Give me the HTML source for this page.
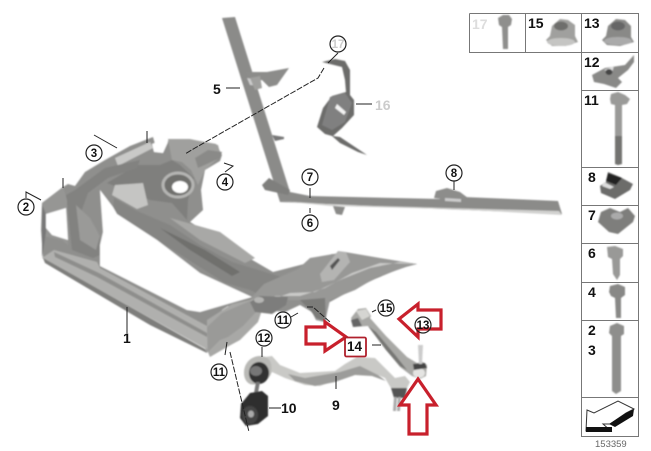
<!DOCTYPE html>
<html><head><meta charset="utf-8"><style>
html,body{margin:0;padding:0;background:#fff;width:651px;height:451px;overflow:hidden}
svg{display:block}
text{font-family:"Liberation Sans",sans-serif;font-weight:bold;fill:#111}
.n{font-size:14px}
.c{font-size:11.5px;text-anchor:middle}
.ci{fill:#fff;stroke:#222;stroke-width:1.2}
.l{stroke:#222;stroke-width:1;fill:none}
.d{stroke:#222;stroke-width:1;fill:none;stroke-dasharray:6 1.5}
.g{stroke:#777;stroke-width:1;fill:none}
</style></head><body>
<svg width="651" height="451" viewBox="0 0 651 451" xmlns="http://www.w3.org/2000/svg">
<defs><filter id="b" x="-5%" y="-5%" width="110%" height="110%"><feGaussianBlur stdDeviation="0.7"/></filter></defs>

<g filter="url(#b)">
<!-- subframe -->
<path d="M42 203L63 187L68 184L75 186L85 172L105 160L130 146L153 137L155 144L167 142L172 139L188 139L216 144L222 155L220 161L205 170L201 190L203 210L190 222L187 220L230 247L273 272L312 262L332 254L350 255L380 259L417 264L404 267L375 279L352 290L328 303L325 322L316 320L312 312L300 305L285 312L265 310L240 312L228 306L222 310L215 330L207 353L205 348L43 258L41 230Z" fill="#8f8f8d"/>
<path d="M107 183L137 165L160 165L172 160L180 165L194 178L188 200L187 220L172 203L150 200Z" fill="#7f7f7d"/>
<path d="M168 139L190 139L218 145L221 156L205 170L198 185L191 170L182 162L172 160Z" fill="#a0a09e"/>
<path d="M198 168L220 158L222 152L208 150L195 158Z" fill="#8a8a88"/>
<ellipse cx="178" cy="185" rx="15" ry="12" fill="#6f6f6d" stroke="#b5b5b3" stroke-width="3"/>
<ellipse cx="180" cy="187" rx="8" ry="6" fill="#fff"/>
<path d="M115 185L143 183L148 205L137 209L112 195Z" fill="#c5c5c3"/>
<path d="M114 198L135 210L170 225L200 245L232 262L285 278L270 300L250 290L225 283L165 245L125 222L113 210Z" fill="#858583"/>
<path d="M170 218L220 232L255 258L245 263L200 240Z" fill="#a8a8a6"/>
<path d="M160 228L205 250L240 272L232 276L190 250Z" fill="#6f6f6d"/>
<path d="M115 158L150 142L153 148L118 166Z" fill="#c9c9c7"/>
<path d="M75 190L105 168L140 160L137 168L108 178L88 193L80 215L100 235L100 255L93 258L72 250L66 195Z" fill="#828280"/>
<path d="M42 203L63 187L67 200L68 245L62 240L44 236L47 215Z" fill="#969694"/>
<path d="M46 214L66 208L68 240L52 235L46 228Z" fill="#fff"/>
<path d="M76 205L90 218L100 236L96 250L80 240Z" fill="#9a9a98"/>
<path d="M54 250L97 262L100 268L218 332L208 350L42 258Z" fill="#b0b0ae"/>
<path d="M54 252L99 273L207 333L207 337L97 277L55 257Z" fill="#8e8e8c"/>
<path d="M43 258L205 349L207 353L150 325L45 263Z" fill="#7e7e7c"/>
<path d="M42 205L46 215L46 232L42 258L42 258Z" fill="#777"/>
<!-- white cutouts -->
<path d="M100 190L113 207L117 214L157 240L200 273L252 297L200 312L187 310L100 266L100 245L103 232Z" fill="#fff"/>
<path d="M152 144L154 152L163 153L168 142L160 141Z" fill="#fff"/>
<!-- right corner structures -->
<path d="M207 320L232 304L250 300L254 298L262 310L258 322L240 340L227 347L210 357L207 350Z" fill="#a8a8a6"/>
<path d="M207 327L222 313L250 301L256 312L243 326L228 337L220 340L208 352Z" fill="#9a9a98"/>
<path d="M252 297L264 284L298 269L310 258L345 252L380 258L417 264L406 267L377 277L355 290L330 300L325 322L316 320L308 300L285 300L268 310L258 308Z" fill="#989896"/>
<path d="M270 300L275 296L300 296L325 288L352 273L380 263L417 264L400 262L370 268L340 280L315 292L290 293Z" fill="#c9c9c7"/>
<path d="M320 274L338 251L346 252L350 262L334 280L322 282Z" fill="#b4b4b2"/>
<path d="M330 266L338 258L340 260L332 270Z" fill="#555"/>
<path d="M250 302L260 296L288 297L286 305L272 314L255 312Z" fill="#7d7d7b"/>
<path d="M300 300L325 298L326 322L316 318L310 310Z" fill="#7b7b79"/>
<ellipse cx="259" cy="300" rx="5" ry="3" fill="#b5b5b3"/>

<!-- frame brace -->
<path d="M222 18L235 17L290 192L310 196L440 199L440 196L558 201L562 214L280 202Z" fill="#8b8b89"/>
<path d="M280 201L312 203L340 205L559 211L562 215L450 209L330 206Z" fill="#d2d2d0"/>
<path d="M262 185L269 178L290 190L288 195L265 190Z" fill="#7f7f7d"/>
<path d="M333 206L345 207L342 215L336 214Z" fill="#8a8a88"/>
<path d="M434 198L436 191L447 188L460 192L468 198L450 200Z" fill="#8d8d8b"/>
<path d="M445 198L461 199L461 202L445 201Z" fill="#ccc"/>
<path d="M246 72L267 72L289 68L277 85L269 87L262 80L250 82Z" fill="#8c8c8a"/>
<path d="M247 78L258 80L260 86L250 85Z" fill="#ccc"/>
<path d="M272 135L284 137L284 139L275 141Z" fill="#777"/>
<path d="M250 78L260 76L262 88L255 90Z" fill="#a0a09e"/>

<!-- part 16 -->
<path d="M322 62L335 59L345 61L350 70L350 95L354 100L354 115L342 128L333 136L340 137L367 155L358 152L340 143L332 136L325 134L317 127L323 108L332 96L346 92L345 80L342 67L330 64Z" fill="#6c6c6a"/>
<path d="M330 97L345 93L352 103L345 122L332 130L322 125L327 108Z" fill="#808080"/>
<path d="M337 104L346 112L344 115L335 108Z" fill="#f2f2f2"/>

<!-- lower arm 9 -->
<path d="M258 358L272 356L280 365L300 373L335 371L345 364L357 357L375 358L385 368L395 378L405 376L410 382L405 392L392 390L385 378L373 373L355 372L342 378L320 386L305 385L285 378L272 372L270 376Z" fill="#c9c9c6"/>
<path d="M288 374L305 378L340 372L360 366L378 375L386 381L372 376L355 375L335 382L315 386L295 381Z" fill="#9c9c9a"/>
<path d="M244 373C244 362 252 356 260 356C270 356 273 364 271 372C270 382 256 386 250 384C246 382 244 378 244 373Z" fill="#b9b9b6"/>
<ellipse cx="259" cy="373" rx="10" ry="11" fill="#333"/>
<ellipse cx="256" cy="371" rx="6" ry="5" fill="#777"/>
<path d="M256 382L260 382L258 393L254 393Z" fill="#777"/>
<path d="M391 388L407 388L405 398L394 398Z" fill="#555"/>
<path d="M394 397L397 397L396 411L393 411ZM398 397L401 397L400 411L397 411Z" fill="#aaa"/>
<!-- bushing 10 -->
<path d="M250 393L262 391L268 396L268 416L258 424L246 426L240 418L241 404Z" fill="#2d2d2d"/>
<ellipse cx="250" cy="415" rx="8" ry="9" fill="#444"/>
<ellipse cx="251" cy="414" rx="3" ry="3.500" fill="#aaa"/>
<!-- arm 15 -->
<path d="M351 318L358 309L366 308L371 316L370 318L386 336L407 357L417 363L423 362L427 365L426 376L420 379L412 376L400 367L386 350L368 326L354 327Z" fill="#a9a9a6"/>
<path d="M351 320L358 318L362 326L353 327Z" fill="#666"/>
<path d="M356 311L366 309L370 316L362 320Z" fill="#d5d5d2"/>
<path d="M368 326L386 350L400 366L407 370L396 356L376 332Z" fill="#777775"/>
<ellipse cx="419" cy="373" rx="6" ry="5" fill="#e4e4e2"/>
<path d="M413 364L425 363L427 368L414 370Z" fill="#444"/>
<path d="M418 345L423 345L422 364L419 364Z" fill="#ccc"/>

<!-- hardware -->
<path d="M498 18L503 15L509 15L512 19L511 25L508 27L508 49L503 49L502 27L499 25Z" fill="#8f8f8d"/>
<path d="M550 36L552 26L560 19L568 20L575 25L575 36L578 42L565 46L552 46L546 40Z" fill="#a0a09e"/>
<ellipse cx="561" cy="26" rx="7" ry="4.500" fill="#6e6e6c"/>
<ellipse cx="561" cy="42" rx="14" ry="4" fill="#c5c5c3"/>
<path d="M606 36L608 26L616 19L625 20L631 26L631 37L634 42L620 46L607 45L602 40Z" fill="#898987"/>
<ellipse cx="618" cy="26" rx="7" ry="4.500" fill="#666"/>
<ellipse cx="618" cy="41" rx="14" ry="4" fill="#aaa"/>
<path d="M592 75L605 68L625 65L634 55L634 62L628 70L618 78L622 82L616 88L604 84L594 82Z" fill="#898987"/>
<path d="M604 70L614 66L612 73Z" fill="#ddd"/>
<ellipse cx="609" cy="72" rx="3.500" ry="3" fill="#444"/>
<path d="M611 94L618 92L625 95L630 99L627 104L622 105L622 164L618 165L615 164L615 105L611 104L610 99Z" fill="#9a9a98"/>
<path d="M615 136L622 136L622 164L618 165L615 164Z" fill="#737371"/>
<path d="M608 172L620 177L633 184L630 190L615 199L601 193L600 186L606 182Z" fill="#6c6c6a"/>
<path d="M608 173L622 178L616 185L606 181Z" fill="#222"/>
<path d="M604 182L614 187L610 189L602 186Z" fill="#ddd"/>
<path d="M601 212L610 208L620 212L628 208L635 216L633 222L618 234L609 232L598 222Z" fill="#7e7e7c"/>
<ellipse cx="617" cy="216" rx="6" ry="3.500" fill="#aaa"/>
<path d="M607 247L615 246L623 249L623 256L620 259L620 275L617 280L613 274L612 259L608 257Z" fill="#999997"/>
<path d="M610 286L618 284L625 287L625 295L621 298L621 318L616 318L615 298L611 296L609 292Z" fill="#888886"/>
<path d="M610 326L617 323L624 326L624 334L621 336L621 391L616 394L612 391L612 336L609 333Z" fill="#8e8e8c"/>
</g>

<!-- big arrow symbol -->
<g>
<path d="M587 410L594 413L618 401L634 409L626 413L610 424L603 424L611 431L586 431Z" fill="#fff" stroke="#333" stroke-width="1"/>
<path d="M634 409L633 416L615 427L609 424L626 413Z" fill="#111"/>
<rect x="586" y="427" width="26" height="5" fill="#111"/>
</g>

<!-- grid -->
<path class="g" d="M469.500 13.500H638.500V436.500H581.500V13.500M469.500 13.500V52.500H638.500M525.500 13.500V52.500M581.500 90.500H638.500M581.500 167.500H638.500M581.500 205.500H638.500M581.500 243.500H638.500M581.500 282.500H638.500M581.500 320.500H638.500M581.500 397.500H638.500"/>

<!-- leaders -->
<path class="l" d="M127 307V333M240 88H226M356 104H372M310 188V198M310 208V213M454 181V190M338 53L328 63"/>
<path class="l" d="M26 198L26 192L41 200M94 135L117 148M225 172L233 166L224 163"/>
<path class="l" d="M147 131V143M63 178V188"/>
<path class="d" d="M324 68L318 78L195 148L185 154"/>
<path class="d" d="M230 352L249 432"/>
<path class="d" d="M307 307L313 307L330 322"/>
<path class="l" d="M336 376V389M269 408H281M262 347L262 357M372 345H381M372 312L376 310"/>
<path class="l" d="M291 317L298 313M225 355L227 342"/>

<!-- red -->
<g fill="#fff" stroke="#c8202c" stroke-width="3.200" stroke-linejoin="miter">
<path fill="none" d="M306 327H325V322L346 337L325 351V344H306Z"/>
<path fill="none" d="M399 319L418 304V310H441V329H418V337Z"/>
<path fill="none" d="M418 379L436 405H427V434H409V405H400Z"/>
</g>
<rect x="345" y="337.500" width="21" height="19" rx="1.500" fill="#fff" stroke="#b0202c" stroke-width="1.800"/>

<!-- circles -->
<circle class="ci" cx="26" cy="207" r="8"/><circle class="ci" cx="94" cy="153" r="8"/>
<circle class="ci" cx="225" cy="182" r="8"/><circle class="ci" cx="310" cy="177" r="8"/>
<circle class="ci" cx="310" cy="223" r="8"/><circle class="ci" cx="454" cy="173" r="8"/>
<circle class="ci" cx="338" cy="44" r="8"/><circle class="ci" cx="386" cy="308" r="8"/>
<circle class="ci" cx="423" cy="325" r="8" style="fill:none"/>
<circle class="ci" cx="283" cy="320" r="8"/><circle class="ci" cx="264" cy="338" r="8"/>
<circle class="ci" cx="219" cy="372" r="8"/>
<text class="c" x="26" y="211">2</text><text class="c" x="94" y="157">3</text>
<text class="c" x="225" y="186">4</text><text class="c" x="310" y="181">7</text>
<text class="c" x="310" y="227">6</text><text class="c" x="454" y="177">8</text>
<text class="c" x="338" y="48" style="fill:#ccc">17</text><text class="c" x="386" y="312">15</text>
<text class="c" x="423" y="329">13</text>
<text class="c" x="283" y="324">11</text><text class="c" x="264" y="342">12</text>
<text class="c" x="219" y="376">11</text>

<!-- labels -->
<text class="n" x="123" y="343">1</text>
<text class="n" x="213" y="94">5</text>
<text class="n" x="375" y="110" style="fill:#ccc">16</text>
<text class="n" x="332" y="410">9</text>
<text class="n" x="281" y="413">10</text>
<text class="n" x="347" y="351" style="font-size:13.500px">14</text>
<text class="n" x="472" y="29" style="fill:#ddd">17</text>
<text class="n" x="528" y="28">15</text>
<text class="n" x="584" y="28">13</text>
<text class="n" x="584" y="67">12</text>
<text class="n" x="584" y="105">11</text>
<text class="n" x="588" y="182">8</text>
<text class="n" x="588" y="220">7</text>
<text class="n" x="588" y="258">6</text>
<text class="n" x="588" y="297">4</text>
<text class="n" x="588" y="335">2</text>
<text class="n" x="588" y="355">3</text>
<text x="595" y="447" style="font-size:9.500px;font-weight:normal;fill:#666">153359</text>
</svg>
</body></html>
